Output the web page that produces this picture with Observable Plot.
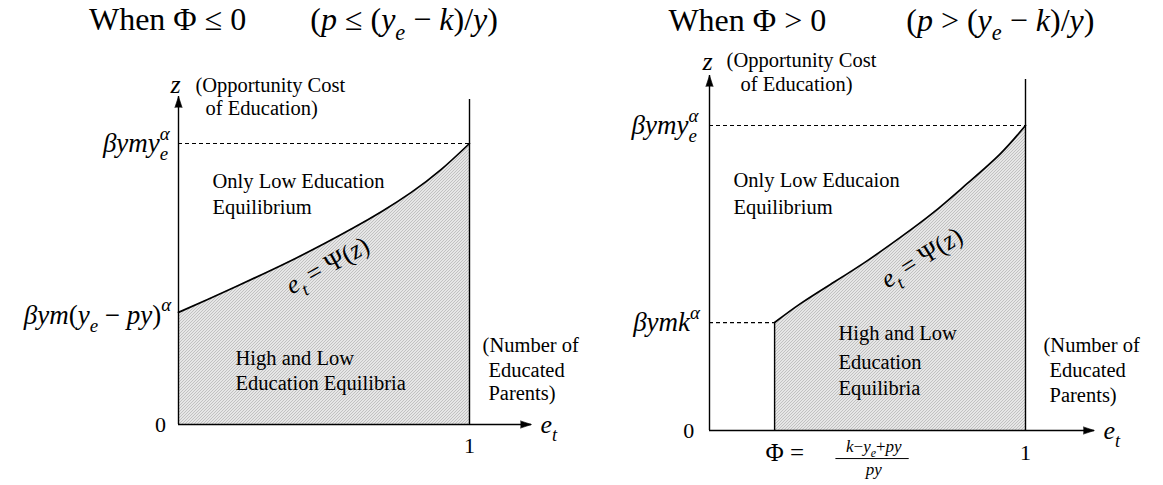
<!DOCTYPE html>
<html><head><meta charset="utf-8">
<script src="https://cdn.jsdelivr.net/npm/d3@7"></script>
<script src="https://cdn.jsdelivr.net/npm/@observablehq/plot@0.6"></script>
<style>
body{margin:0;background:#fff;}
#wrap{display:flex;width:1163px;height:485px;overflow:hidden;}
#wrap svg{overflow:visible;}
#wrap svg text{font-family:"Liberation Serif","Times New Roman",serif;}
</style></head><body><div id="wrap"></div>
<script>
// ---------- DATA ----------
// Left panel (Φ ≤ 0): curve e_t = Ψ(z), e in [0,1], z normalised so βymy_e^α = 1
const eLeft = [0, 0.1, 0.2, 0.3, 0.4, 0.5, 0.6, 0.7, 0.8, 0.9, 1];
const zLeft = [0.399, 0.445, 0.492, 0.54, 0.59, 0.643, 0.699, 0.759, 0.826, 0.905, 1];
// Right panel (Φ > 0): curve starts at e = Φ
const eRight = [0.206, 0.288, 0.392, 0.5, 0.604, 0.709, 0.816, 0.921, 1];
const zRight = [0.354, 0.416, 0.485, 0.557, 0.633, 0.715, 0.81, 0.908, 1];
const phiValue = 0.206;      // Φ
const zK = 0.354;            // βymk^α
const zTop = 1;              // βymy_e^α
const eOne = 1;              // e_t = 1
// Text
const titleLeft = "When $Φ ≤ 0$\u2003\u2003$(p ≤ (y_e − k)/y)$";
const titleRight = "When $Φ > 0$\u2003\u2003\u2002$(p > (y_e − k)/y)$";
const zAxisName = "$z$";
const zAxisDesc = ["(Opportunity Cost", "of Education)"];
const eAxisName = "$e_t$";
const eAxisDesc = ["(Number of", "Educated", "Parents)"];
const tickLabels = ["0", "1"];
const levelTop = "$βymy_e^α$";
const levelLeftStart = "$βym(y_e − py)^α$";
const levelRightStart = "$βymk^α$";
const curveLabel = "$e_t = Ψ(z)$";
const lowLeft = ["Only Low Education", "Equilibrium"];
const lowRight = ["Only Low Educaion", "Equilibrium"];
const highLeft = ["High and Low", "Education Equilibria"];
const highRight = ["High and Low", "Education", "Equilibria"];
const phiLabel = "$Φ =$";
const phiNum = "$k−y_e+py$";
const phiDen = "$py$";

// ---------- helpers ----------
const FONT = '"Liberation Serif", "Times New Roman", serif';
const rich = new Map();
const plain = s => s.replace(/[$^_{}]/g, "");
function lab(items, {size = 20.5, anchor = "start", rotate = 0} = {}) {
  for (const d of items) if (d.s.includes("$")) rich.set(plain(d.s) + "|" + size, d.s);
  return Plot.text(items, {
    x: "x", y: "y",
    text: d => plain(d.s),
    fontSize: size, textAnchor: anchor, lineAnchor: "middle", rotate,
    fill: "black", fontFamily: FONT
  });
}
function parseRich(s) {
  const out = [];
  let math = false, i = 0;
  const isIt = c => /[a-zA-Zα-ω]/.test(c);
  function push(c, it, lvl) {
    const last = out[out.length - 1];
    if (last && last.it === it && last.lvl === lvl) last.t += c;
    else out.push({t: c, it, lvl});
  }
  while (i < s.length) {
    const c = s[i];
    if (c === "$") { math = !math; i++; continue; }
    if (math && (c === "_" || c === "^")) {
      const lvl = c === "_" ? -1 : 1;
      i++;
      let tok;
      if (s[i] === "{") { const j = s.indexOf("}", i); tok = s.slice(i + 1, j); i = j + 1; }
      else { tok = s[i]; i++; }
      for (const ch of tok) push(ch, isIt(ch), lvl);
      continue;
    }
    push(c, math && isIt(c), 0);
    i++;
  }
  return out;
}
function buildRich(node, s, size) {
  const t = d3.select(node);
  t.text(null);
  let cur = 0, prevSub = null;
  for (const g of parseRich(s)) {
    const off = g.lvl === -1 ? size * 0.3 : g.lvl === 1 ? -size * 0.46 : 0;
    const ts = t.append("tspan").text(g.t)
      .attr("font-style", g.it ? "italic" : "normal")
      .attr("font-size", g.lvl ? size * 0.7 : size);
    if (off !== cur) ts.attr("dy", off - cur);
    cur = off;
    if (g.lvl === 1 && prevSub) ts.attr("dx", -prevSub.node().getComputedTextLength());
    prevSub = g.lvl === -1 ? ts : null;
  }
}
function addHatch(svg, id) {
  const defs = d3.select(svg).insert("defs", ":first-child");
  const p = defs.append("pattern").attr("id", id).attr("patternUnits", "userSpaceOnUse")
    .attr("width", 3).attr("height", 3);
  p.append("rect").attr("width", 3).attr("height", 3).attr("fill", "#e6e6e6");
  p.append("path").attr("d", "M0,3L3,0M-1,1L1,-1M2,4L4,2")
    .attr("stroke", "#b2b2b2").attr("stroke-width", 0.7);
}
const ax = {stroke: "black", strokeWidth: 1.4};
const head = {x: d => d[0], y: d => d[1], length: 11, r: 3.6, shape: "spike", anchor: "end", fill: "black", stroke: "black", strokeWidth: 0.6};

// ---------- LEFT ----------
const curveL = eLeft.map((e, i) => ({e, z: zLeft[i]}));
const L = {yTip: 1.167, vTop: 1.157, xTip: 1.213};
const left = Plot.plot({
  width: 581, height: 485,
  marginLeft: 178, marginRight: 112, marginTop: 143, marginBottom: 61,
  x: {domain: [0, 1], axis: null},
  y: {domain: [0, 1], axis: null},
  style: {fontFamily: FONT, background: "white", overflow: "visible"},
  marks: [
    Plot.areaY(curveL, {x: "e", y1: 0, y2: "z", fill: "url(#hatchL)", curve: "natural"}),
    Plot.ruleY([zTop], {x1: 0, x2: eOne, stroke: "black", strokeWidth: 1.2, strokeDasharray: "4,3"}),
    Plot.line(curveL, {x: "e", y: "z", stroke: "black", strokeWidth: 1.7, curve: "natural"}),
    Plot.ruleX([eOne], {y1: 0, y2: L.vTop, ...ax}),
    Plot.ruleX([0], {y1: 0, y2: L.yTip, ...ax}),
    Plot.ruleY([0], {x1: 0, x2: L.xTip, ...ax}),
    Plot.vector([[0, L.yTip]], {...head, rotate: 0}),
    Plot.vector([[L.xTip, 0]], {...head, rotate: 90}),
    lab([{x: 0.395, y: 1.44, s: titleLeft}], {size: 32, anchor: "middle"}),
    lab([{x: -0.01, y: 1.21, s: zAxisName}], {size: 26, anchor: "middle"}),
    lab([{x: 0.058, y: 1.206, s: zAxisDesc[0]}, {x: 0.093, y: 1.125, s: zAxisDesc[1]}]),
    lab([{x: -0.03, y: zTop, s: levelTop}, {x: -0.025, y: 0.39, s: levelLeftStart}], {size: 27, anchor: "end"}),
    lab([{x: 0.117, y: 0.865, s: lowLeft[0]}, {x: 0.117, y: 0.772, s: lowLeft[1]}]),
    lab([{x: 0.196, y: 0.235, s: highLeft[0]}, {x: 0.196, y: 0.146, s: highLeft[1]}]),
    lab([{x: 0.512, y: 0.566, s: curveLabel}], {size: 26, anchor: "middle", rotate: -29}),
    lab([{x: -0.062, y: 0, s: tickLabels[0]}, {x: eOne, y: -0.075, s: tickLabels[1]}], {size: 22, anchor: "middle"}),
    lab([{x: 1.244, y: 0, s: eAxisName}], {size: 26}),
    lab([{x: 1.045, y: 0.281, s: eAxisDesc[0]}, {x: 1.065, y: 0.192, s: eAxisDesc[1]}, {x: 1.065, y: 0.110, s: eAxisDesc[2]}])
  ]
});

// ---------- RIGHT ----------
const curveR = eRight.map((e, i) => ({e, z: zRight[i]}));
const R = {yTip: 1.164, vTop: 1.151, xTip: 1.218};
const right = Plot.plot({
  width: 582, height: 485,
  marginLeft: 128, marginRight: 138, marginTop: 125, marginBottom: 55,
  x: {domain: [0, 1], axis: null},
  y: {domain: [0, 1], axis: null},
  style: {fontFamily: FONT, background: "white", overflow: "visible"},
  marks: [
    Plot.areaY(curveR, {x: "e", y1: 0, y2: "z", fill: "url(#hatchR)", curve: "natural"}),
    Plot.ruleY([zTop], {x1: 0, x2: eOne, stroke: "black", strokeWidth: 1.2, strokeDasharray: "4,3"}),
    Plot.ruleY([zK], {x1: 0, x2: phiValue, stroke: "black", strokeWidth: 1.2, strokeDasharray: "4,3"}),
    Plot.line(curveR, {x: "e", y: "z", stroke: "black", strokeWidth: 1.7, curve: "natural"}),
    Plot.ruleX([phiValue], {y1: 0, y2: zK, ...ax}),
    Plot.ruleX([eOne], {y1: 0, y2: R.vTop, ...ax}),
    Plot.ruleX([0], {y1: 0, y2: R.yTip, ...ax}),
    Plot.ruleY([0], {x1: 0, x2: R.xTip, ...ax}),
    Plot.vector([[0, R.yTip]], {...head, rotate: 0}),
    Plot.vector([[R.xTip, 0]], {...head, rotate: 90}),
    Plot.ruleY([-0.092], {x1: 0.40, x2: 0.632, stroke: "black", strokeWidth: 1}),
    lab([{x: 0.544, y: 1.344, s: titleRight}], {size: 32, anchor: "middle"}),
    lab([{x: -0.006, y: 1.21, s: zAxisName}], {size: 26, anchor: "middle"}),
    lab([{x: 0.054, y: 1.213, s: zAxisDesc[0]}, {x: 0.098, y: 1.134, s: zAxisDesc[1]}]),
    lab([{x: -0.035, y: zTop, s: levelTop}, {x: -0.03, y: zK, s: levelRightStart}], {size: 27, anchor: "end"}),
    lab([{x: 0.076, y: 0.82, s: lowRight[0]}, {x: 0.076, y: 0.731, s: lowRight[1]}]),
    lab([{x: 0.408, y: 0.318, s: highRight[0]}, {x: 0.408, y: 0.223, s: highRight[1]}, {x: 0.408, y: 0.138, s: highRight[2]}]),
    lab([{x: 0.671, y: 0.567, s: curveLabel}], {size: 26, anchor: "middle", rotate: -32}),
    lab([{x: -0.066, y: 0, s: tickLabels[0]}, {x: eOne, y: -0.075, s: tickLabels[1]}], {size: 22, anchor: "middle"}),
    lab([{x: 1.247, y: 0, s: eAxisName}], {size: 26}),
    lab([{x: 1.057, y: 0.279, s: eAxisDesc[0]}, {x: 1.076, y: 0.197, s: eAxisDesc[1]}, {x: 1.076, y: 0.115, s: eAxisDesc[2]}]),
    lab([{x: 0.177, y: -0.075, s: phiLabel}], {size: 25}),
    lab([{x: 0.52, y: -0.052, s: phiNum}, {x: 0.52, y: -0.128, s: phiDen}], {size: 17, anchor: "middle"})
  ]
});

const wrap = document.getElementById("wrap");
wrap.appendChild(left);
wrap.appendChild(right);
addHatch(left, "hatchL");
addHatch(right, "hatchR");
document.querySelectorAll("#wrap svg text").forEach(node => {
  const g = node.closest("g");
  const size = +(g && g.getAttribute("font-size")) || 0;
  const key = node.textContent + "|" + size;
  if (rich.has(key)) buildRich(node, rich.get(key), size);
});
</script></body></html>
